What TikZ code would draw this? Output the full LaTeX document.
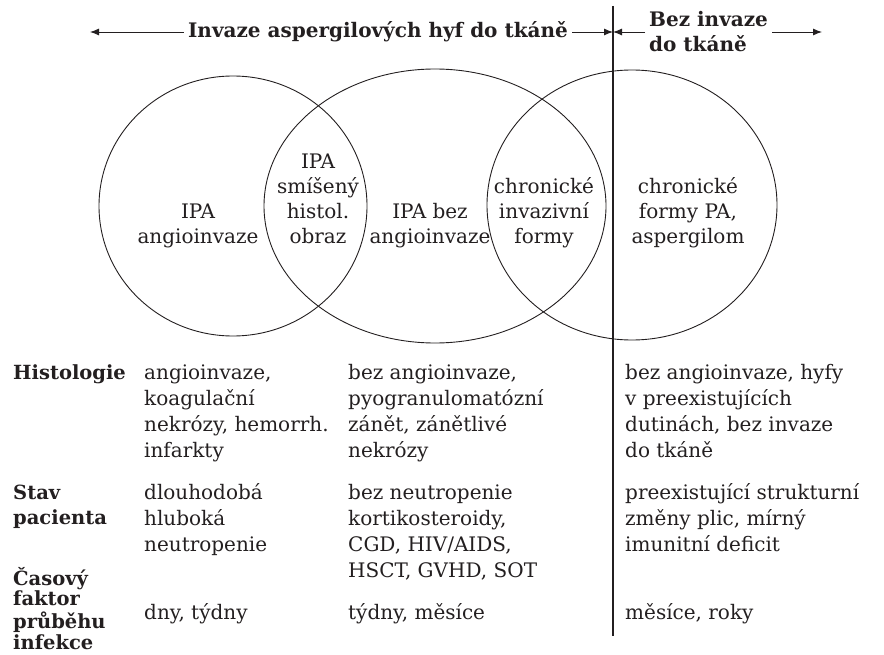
\documentclass[tikz,border=0pt]{standalone}
\usepackage{fontspec}
\setmainfont{DejaVu Serif}
\usetikzlibrary{arrows.meta,shapes.geometric}
\definecolor{ink}{RGB}{35,31,32}
\newcommand\myblock[2][l]{\begin{tabular}[t]{@{}#1@{}}#2\end{tabular}}
\begin{document}
\begin{tikzpicture}[x=1pt,y=-1pt,line join=round,
  venn/.style={ellipse, draw=ink, line width=0.9pt, inner sep=0pt},
  ctext/.style={anchor=base, inner sep=0pt, text=ink, font=\fontsize{20}{25}\selectfont},
  ttext/.style={anchor=base west, inner sep=0pt, text=ink, font=\fontsize{20}{26}\selectfont},
  lab/.style={anchor=base west, inner sep=0pt, text=ink, font=\fontsize{19.5}{25}\selectfont\bfseries},
  hdr/.style={text=ink, font=\fontsize{20}{25}\selectfont\bfseries, inner sep=4pt},
  arr/.style={-{Latex[length=9pt,width=7pt]}, line width=0.9pt, draw=ink},
  divider/.style={draw=ink, line width=1.1pt}]
\path[use as bounding box] (0,0) rectangle (884,655);
% Venn ellipses
\node[venn, minimum width=268pt, minimum height=260pt] (c1) at (233,206) {};
\node[venn, minimum width=342pt, minimum height=274pt] (c2) at (435,206) {};
\node[venn, minimum width=290pt, minimum height=270pt] (c3) at (632,205) {};
% vertical divider
\coordinate (vt) at (613,6);
\coordinate (vb) at (613,636);
\draw[divider] (vt) -- (vb);
% header
\node[hdr] (t1) at (378,32) {Invaze aspergilových hyf do tkáně};
\coordinate (la) at (90,32);
\coordinate (vm) at (613,32);
\draw[arr] (t1.west) -- (la);
\draw[arr] (t1.east) -- (vm);
\node[hdr, align=left, anchor=west] (t2) at (645,32) {Bez invaze\\do tkáně};
\draw[arr] (t2.west) -- (vm);
\coordinate (ra) at (822,32);
\draw[arr] (t2.east) -- (ra);
% texts in circles
\node[ctext] (a1) at (198,219) {\myblock[c]{IPA\\angioinvaze}};
\node[ctext] (a2) at (318,169) {\myblock[c]{IPA\\smíšený\\histol.\\obraz}};
\node[ctext] (a3) at (430,219) {\myblock[c]{IPA bez\\angioinvaze}};
\node[ctext] (a4) at (544,194) {\myblock[c]{chronické\\invazivní\\formy}};
\node[ctext] (a5) at (688,194) {\myblock[c]{chronické\\formy PA,\\aspergilom}};
% table
\node[lab] (l1) at (13,379) {Histologie};
\node[ttext] (h1) at (144,379) {\myblock{angioinvaze,\\koagulační\\nekrózy, hemorrh.\\infarkty}};
\node[ttext] (h2) at (348,379) {\myblock{bez angioinvaze,\\pyogranulomatózní\\zánět, zánětlivé\\nekrózy}};
\node[ttext] (h3) at (625,379) {\myblock{bez angioinvaze, hyfy\\v preexistujících\\dutinách, bez invaze\\do tkáně}};
\node[lab] (l2) at (13,499) {\myblock{Stav\\pacienta}};
\node[ttext] (s1) at (144,499) {\myblock{dlouhodobá\\hluboká\\neutropenie}};
\node[ttext] (s2) at (348,499) {\myblock{bez neutropenie\\kortikosteroidy,\\CGD, HIV/AIDS,\\HSCT, GVHD, SOT}};
\node[ttext] (s3) at (625,499) {\myblock{preexistující strukturní\\změny plic, mírný\\imunitní deficit}};
\node[lab, font=\fontsize{19.5}{20}\selectfont\bfseries] (l3) at (13,585) {\myblock{Časový\\faktor\\průběhu\\infekce}};
\node[ttext] (p1) at (144,619) {dny, týdny};
\node[ttext] (p2) at (348,619) {týdny, měsíce};
\node[ttext] (p3) at (625,619) {měsíce, roky};
\end{tikzpicture}
\end{document}
